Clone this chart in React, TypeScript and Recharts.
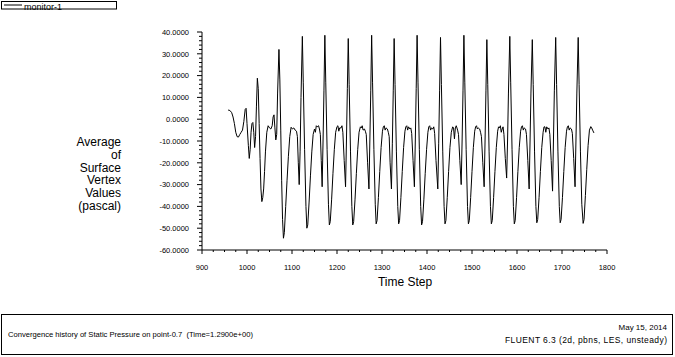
import React from 'react';
import { LineChart, Line, XAxis, YAxis } from 'recharts';

// time step and monitor value, one row per cycle (peak to peak)
const timeSteps = [
  958, 962, 966, 969, 972, 975, 978, 981, 984, 987, 990, 993, 996, 998, 1000, 1003, 1005, 1007, 1009, 1011, 1013, 1015, 1017, 1019, 1021, 1023, 1025, 1027, 1029, 1031, 1033, 1035, 1037, 1039, 1041, 1044, 1047, 1050, 1053, 1056, 1058, 1060, 1062, 1064, 1066, 1068,
  1071, 1073, 1075, 1077, 1079, 1081, 1083, 1086, 1089, 1092, 1095, 1098, 1101, 1104, 1107, 1110, 1112, 1114, 1116, 1118, 1120,
  1123, 1125, 1128, 1131, 1133, 1135, 1138, 1141, 1144, 1147, 1150, 1152, 1154, 1156, 1159, 1161, 1163, 1165, 1167, 1169, 1171,
  1173, 1175, 1178, 1181, 1183, 1185, 1188, 1191, 1194, 1197, 1200, 1202, 1204, 1206, 1209, 1211, 1213, 1216, 1219, 1221, 1223,
  1225, 1227, 1230, 1233, 1235, 1237, 1240, 1243, 1246, 1249, 1252, 1254, 1256, 1258, 1261, 1263, 1265, 1268, 1271, 1273, 1275,
  1277, 1279, 1282, 1285, 1287, 1289, 1292, 1295, 1298, 1301, 1303, 1305, 1307, 1309, 1312, 1314, 1316, 1318, 1321, 1323, 1325,
  1327, 1329, 1332, 1335, 1337, 1339, 1342, 1345, 1348, 1351, 1353, 1355, 1357, 1359, 1362, 1364, 1366, 1369, 1372, 1374, 1376,
  1378, 1380, 1383, 1386, 1388, 1390, 1393, 1396, 1399, 1402, 1404, 1406, 1408, 1410, 1413, 1415, 1417, 1420, 1424, 1426, 1428,
  1430, 1432, 1435, 1438, 1440, 1442, 1445, 1448, 1451, 1454, 1457, 1459, 1461, 1463, 1465, 1468, 1470, 1473, 1476, 1478, 1480,
  1482, 1484, 1487, 1490, 1492, 1494, 1497, 1500, 1503, 1506, 1508, 1510, 1512, 1514, 1517, 1519, 1521, 1524, 1527, 1529, 1531,
  1533, 1535, 1538, 1541, 1543, 1545, 1548, 1551, 1554, 1557, 1559, 1561, 1563, 1565, 1567, 1569, 1571, 1574, 1577, 1579, 1581,
  1584, 1586, 1589, 1592, 1594, 1596, 1599, 1602, 1605, 1608, 1610, 1612, 1614, 1616, 1619, 1621, 1624, 1627, 1629, 1631,
  1634, 1636, 1639, 1642, 1644, 1646, 1649, 1652, 1655, 1658, 1660, 1662, 1664, 1666, 1669, 1671, 1673, 1676, 1679, 1681, 1683,
  1686, 1688, 1691, 1694, 1696, 1698, 1701, 1704, 1707, 1710, 1712, 1714, 1716, 1718, 1721, 1723, 1726, 1729, 1731, 1733,
  1736, 1738, 1741, 1744, 1747, 1749, 1752, 1755, 1758, 1761, 1764, 1766, 1768, 1771
];

const pressure = [
  4.2, 4.0, 3.0, 1.0, -2, -6, -8, -8.2, -7, -6, -5, -1, 4.5, 5, -2, -12, -18, -14, -6, -2, -1.5, -6, -13, -8, 6, 18.8, 14, -2, -18, -32, -37.8, -36, -32, -24, -15, -6, -3, -4, -4.5, -3, 1, 2, -4, -9.5, -7, 12,
  32, 18, -5, -28, -46, -54.6, -52, -40, -28, -17, -8, -3.7, -4.5, -4, -5, -5.5, -8, -20, -30, -15, 10,
  38, 17, -14, -40, -50, -48.5, -38, -26, -15, -7, -4.5, -6, -3, -3.5, -3, -4.5, -7, -19, -31, -10, 13,
  38.5, 17, -14, -39, -48.5, -47, -37, -25, -14, -6, -3.4, -3, -5.5, -4, -4, -3, -6, -19, -31, -10, 14,
  37, 16, -15, -40, -48.5, -47, -37, -25, -14, -6, -3.5, -4, -3, -5, -4.5, -5.5, -7, -20, -32, -10, 13,
  38.5, 17, -14, -39, -48, -46.5, -36, -24, -13, -5.5, -3.5, -3, -5, -4, -4.5, -6, -8, -20, -32, -11, 13,
  37, 16, -15, -40, -48, -46.5, -36, -24, -13, -5.5, -3.5, -3, -5, -3.5, -4.5, -4, -6.5, -19, -31, -10, 14,
  38.5, 17, -14, -40, -48.5, -47, -37, -25, -14, -6, -3.5, -3, -5, -4, -4.5, -3.5, -6.5, -19, -32, -11, 13,
  37.5, 16, -15, -40, -48, -46.5, -36, -24, -13, -6, -3.5, -4, -9, -4, -3, -5, -7, -19, -30, -10, 13,
  38.5, 17, -14, -40, -48, -46.5, -36, -24, -13, -5.5, -3.5, -3, -4.5, -4, -4.5, -6, -8, -20, -31, -10, 13,
  36.5, 16, -15, -40, -48, -46.5, -36, -24, -13, -5.5, -3.5, -4, -3, -6, -4.5, -3.5, -7, -18, -27, -10, 12,
  38, 17, -14, -40, -48, -46.5, -36, -24, -13, -5.5, -3.5, -3, -5, -4, -4.5, -7, -19, -32, -10, 12,
  36.5, 16, -15, -40, -47.5, -46, -36, -24, -13, -6, -3.5, -3.5, -6, -3.5, -4.5, -4, -7, -19, -33, -10, 13,
  37.5, 16, -15, -40, -47.5, -46, -36, -24, -13, -5.5, -3.5, -3, -5, -4, -4.5, -6.5, -18, -31, -10, 12,
  37.5, 16, -15, -39, -47.8, -46, -35, -23, -12, -5, -3.4, -4, -5, -6.3
];

const xTicks = [
  900, 925, 950, 975, 1000, 1025, 1050, 1075, 1100, 1125, 1150, 1175, 1200, 1225, 1250, 1275, 1300, 1325, 1350, 1375,
  1400, 1425, 1450, 1475, 1500, 1525, 1550, 1575, 1600, 1625, 1650, 1675, 1700, 1725, 1750, 1775, 1800
];

const yTicks = [
  -60, -58, -56, -54, -52, -50, -48, -46, -44, -42, -40, -38, -36, -34, -32, -30, -28, -26, -24, -22, -20, -18, -16, -14, -12,
  -10, -8, -6, -4, -2, 0, 2, 4, 6, 8, 10, 12, 14, 16, 18, 20, 22, 24, 26, 28, 30, 32, 34, 36, 38, 40
];

const yTitle = ['Average', 'of', 'Surface', 'Vertex', 'Values', '(pascal)'];

const data = timeSteps.map((step, i) => ({ step, value: pressure[i] }));

const FONT = '"Liberation Sans", Arial, sans-serif';

const XTick = (props: any) => {
  const { x, y, payload } = props;
  const major = payload.value % 100 === 0;
  return (
    <g>
      <line x1={x} x2={x} y1={y} y2={y + (major ? 4 : 2)} stroke='#000' strokeWidth={1} />
      {major && (
        <text x={x} y={y + 20} textAnchor='middle' fontSize={7.5} fontFamily={FONT} fill='#000'>
          {payload.value}
        </text>
      )}
    </g>
  );
};

const YTick = (props: any) => {
  const { x, y, payload } = props;
  const major = payload.value % 10 === 0;
  return (
    <g>
      <line x1={x - (major ? 5 : 3)} x2={x} y1={y} y2={y} stroke='#000' strokeWidth={1} />
      {major && (
        <text x={x - 13} y={y + 2.7} textAnchor='end' fontSize={7.5} fontFamily={FONT} fill='#000'>
          {payload.value.toFixed(4)}
        </text>
      )}
    </g>
  );
};

export default function App() {
  return (
    <div style={{ position: 'absolute', left: 0, top: 0, width: 675, height: 357, background: '#fff' }}>
      <LineChart
        width={675}
        height={357}
        data={data}
        margin={{ top: 32, right: 68, bottom: 77, left: 142 }}
      >
        <XAxis
          dataKey='step'
          type='number'
          domain={[900, 1800]}
          ticks={xTicks}
          interval={0}
          tick={<XTick />}
          tickLine={false}
          tickSize={0}
          tickMargin={0}
          axisLine={{ stroke: '#000', strokeWidth: 1 }}
          height={30}
        />
        <YAxis
          type='number'
          domain={[-60, 40]}
          ticks={yTicks}
          interval={0}
          tick={<YTick />}
          tickLine={false}
          tickSize={0}
          tickMargin={0}
          axisLine={{ stroke: '#000', strokeWidth: 1 }}
          width={60}
        />
        <Line
          type='linear'
          dataKey='value'
          stroke='#000'
          strokeWidth={1}
          dot={false}
          isAnimationActive={false}
        />
      </LineChart>
      <svg
        width={675}
        height={357}
        style={{ position: 'absolute', left: 0, top: 0, pointerEvents: 'none' }}
        fontFamily={FONT}
      >
        <rect x={1.5} y={1.5} width={115} height={7.5} fill='none' stroke='#000' />
        <line x1={4} x2={22} y1={5} y2={5} stroke='#000' />
        <text x={24} y={9.5} fontSize={9}>monitor-1</text>
        {yTitle.map((t, i) => (
          <text key={t} x={121} y={146 + i * 12.8} fontSize={12} textAnchor='end'>{t}</text>
        ))}
        <text x={405} y={286} fontSize={12} textAnchor='middle'>Time Step</text>
        <rect x={1.5} y={314.5} width={671} height={40} fill='none' stroke='#000' />
        <text x={8} y={337} fontSize={8} textLength={245} lengthAdjust='spacingAndGlyphs'>
          Convergence history of Static Pressure on point-0.7{'\u00a0\u00a0'}(Time=1.2900e+00)
        </text>
        <text x={667} y={330} fontSize={8} textAnchor='end'>May 15, 2014</text>
        <text x={505} y={343} fontSize={8.5} textLength={162} lengthAdjust='spacing'>
          FLUENT 6.3 (2d, pbns, LES, unsteady)
        </text>
      </svg>
    </div>
  );
}
